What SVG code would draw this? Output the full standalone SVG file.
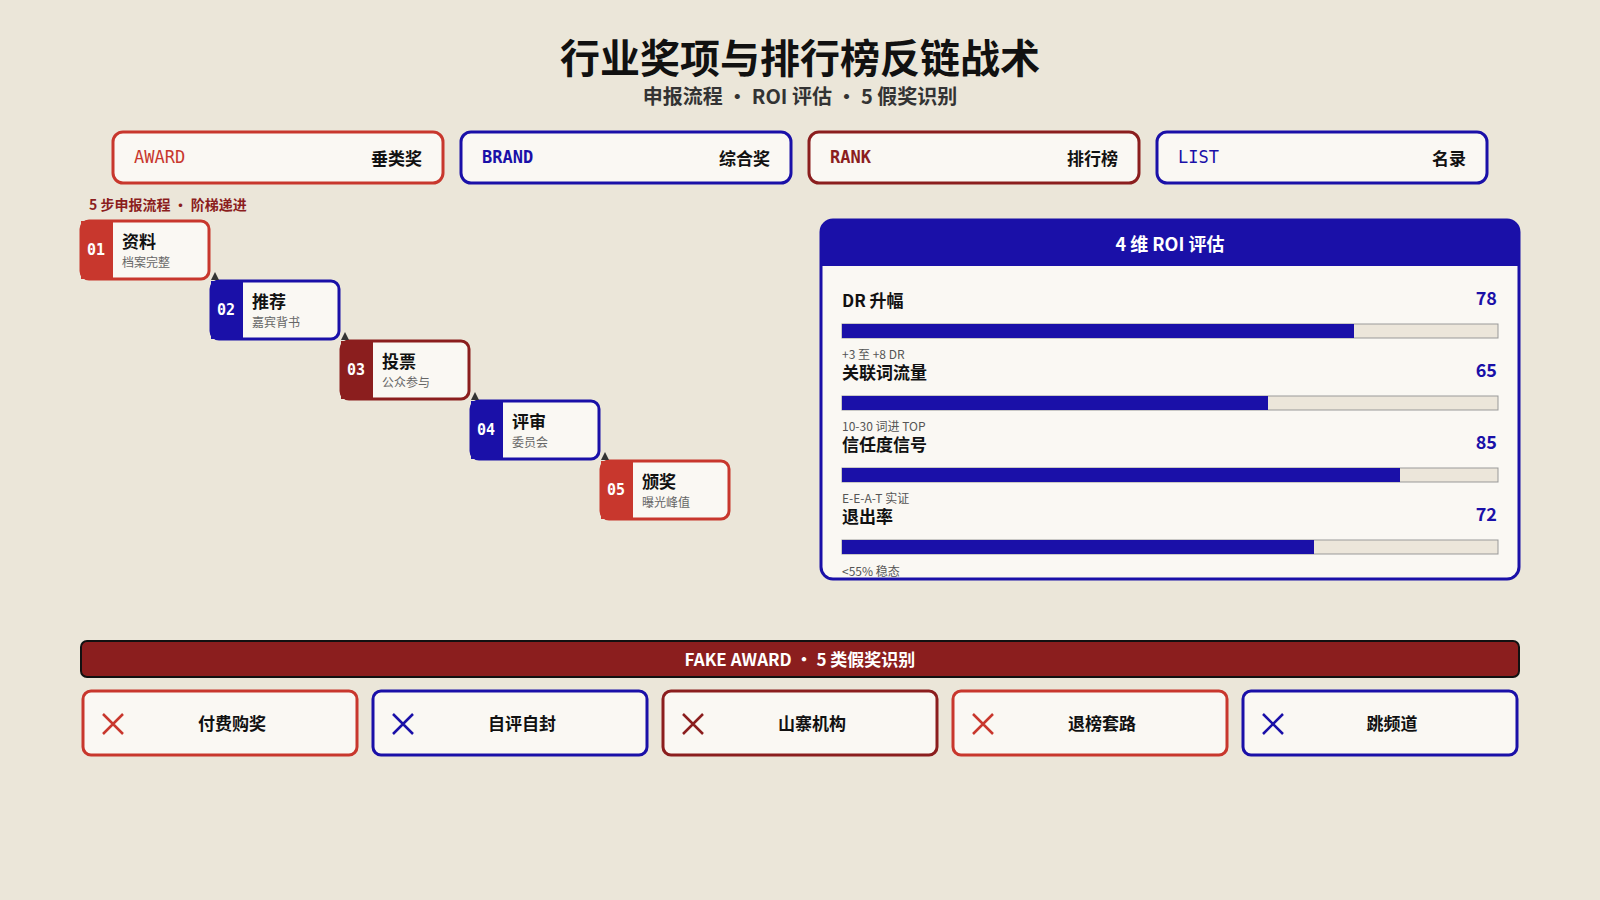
<svg xmlns="http://www.w3.org/2000/svg" width="1600" height="900" viewBox="0 0 1600 900">
<style>
text{font-family:"Noto Sans CJK SC","Noto Sans",sans-serif}
.mono{font-family:"DejaVu Sans Mono","Liberation Mono",monospace}
.card{fill:#faf8f3;stroke-width:3}
.r{stroke:#c8372d}.b{stroke:#1a10a8}.d{stroke:#8b1e1e}
.lbl{font-size:17px;font-weight:700;fill:#111}
.sm{font-size:12px;fill:#666}
.sub{font-size:12px;fill:#555}
.val{font-size:18px;font-weight:700;fill:#1a10a8}
.track{fill:#ece6da;stroke:#999;stroke-width:1}
.fill{fill:#1a10a8}
</style>
<rect width="1600" height="900" fill="#ebe6d9"/>
<text x="800" y="73" text-anchor="middle" font-size="40" font-weight="700" fill="#111">行业奖项与排行榜反链战术</text>
<text x="800" y="104" text-anchor="middle" font-size="20" font-weight="700" fill="#333">申报流程 • ROI 评估 • 5 假奖识别</text>

<g id="tag-award"><rect class="card r" x="113" y="132" width="330" height="51" rx="10"/><text class="mono" x="134" y="163" font-size="17" fill="#c8372d">AWARD</text><text x="422" y="165" text-anchor="end" class="lbl">垂类奖</text></g>
<g id="tag-brand"><rect class="card b" x="461" y="132" width="330" height="51" rx="10"/><text class="mono" x="482" y="163" font-size="17" font-weight="700" fill="#1a10a8">BRAND</text><text x="770" y="165" text-anchor="end" class="lbl">综合奖</text></g>
<g id="tag-rank"><rect class="card d" x="809" y="132" width="330" height="51" rx="10"/><text class="mono" x="830" y="163" font-size="17" font-weight="700" fill="#8b1e1e">RANK</text><text x="1118" y="165" text-anchor="end" class="lbl">排行榜</text></g>
<g id="tag-list"><rect class="card b" x="1157" y="132" width="330" height="51" rx="10"/><text class="mono" x="1178" y="163" font-size="17" fill="#1a10a8">LIST</text><text x="1466" y="165" text-anchor="end" class="lbl">名录</text></g>

<text x="89" y="210" font-size="14" font-weight="700" fill="#8b1e1e">5 步申报流程 • 阶梯递进</text>

<g id="step1"><rect class="card r" x="81" y="221" width="128" height="58" rx="8"/><rect x="81" y="221" width="32" height="58" fill="#c8372d"/><text class="mono" x="96" y="255" text-anchor="middle" font-size="15" font-weight="700" fill="#fff">01</text><text x="122" y="248" class="lbl" font-size="16">资料</text><text x="122" y="267" class="sm">档案完整</text></g>
<g id="step2"><rect class="card b" x="211" y="281" width="128" height="58" rx="8"/><rect x="211" y="281" width="32" height="58" fill="#1a10a8"/><text class="mono" x="226" y="315" text-anchor="middle" font-size="15" font-weight="700" fill="#fff">02</text><text x="252" y="308" class="lbl" font-size="16">推荐</text><text x="252" y="327" class="sm">嘉宾背书</text></g>
<g id="step3"><rect class="card d" x="341" y="341" width="128" height="58" rx="8"/><rect x="341" y="341" width="32" height="58" fill="#8b1e1e"/><text class="mono" x="356" y="375" text-anchor="middle" font-size="15" font-weight="700" fill="#fff">03</text><text x="382" y="368" class="lbl" font-size="16">投票</text><text x="382" y="387" class="sm">公众参与</text></g>
<g id="step4"><rect class="card b" x="471" y="401" width="128" height="58" rx="8"/><rect x="471" y="401" width="32" height="58" fill="#1a10a8"/><text class="mono" x="486" y="435" text-anchor="middle" font-size="15" font-weight="700" fill="#fff">04</text><text x="512" y="428" class="lbl" font-size="16">评审</text><text x="512" y="447" class="sm">委员会</text></g>
<g id="step5"><rect class="card r" x="601" y="461" width="128" height="58" rx="8"/><rect x="601" y="461" width="32" height="58" fill="#c8372d"/><text class="mono" x="616" y="495" text-anchor="middle" font-size="15" font-weight="700" fill="#fff">05</text><text x="642" y="488" class="lbl" font-size="16">颁奖</text><text x="642" y="507" class="sm">曝光峰值</text></g>

<g id="connectors" fill="#333">
<path d="M211 280 L215 272 L219 280Z"/>
<path d="M341 340 L345 332 L349 340Z"/>
<path d="M471 400 L475 392 L479 400Z"/>
<path d="M601 460 L605 452 L609 460Z"/>
</g>

<g id="roi">
<clipPath id="pc"><rect x="821" y="220" width="698" height="359" rx="12"/></clipPath>
<rect x="821" y="220" width="698" height="359" rx="12" fill="#faf8f3" stroke="#1a10a8" stroke-width="3"/>
<g clip-path="url(#pc)">
<rect x="821" y="220" width="698" height="46" fill="#1a10a8"/>
<text x="1170" y="251" text-anchor="middle" font-size="18" font-weight="700" fill="#fff">4 维 ROI 评估</text>
<text x="842" y="307" class="lbl">DR 升幅</text><text x="1497" y="305" text-anchor="end" class="val">78</text>
<rect class="track" x="842" y="324" width="656" height="14"/><rect class="fill" x="842" y="324" width="512" height="14"/>
<text x="842" y="359" class="sub">+3 至 +8 DR</text>
<text x="842" y="379" class="lbl">关联词流量</text><text x="1497" y="377" text-anchor="end" class="val">65</text>
<rect class="track" x="842" y="396" width="656" height="14"/><rect class="fill" x="842" y="396" width="426" height="14"/>
<text x="842" y="431" class="sub">10-30 词进 TOP</text>
<text x="842" y="451" class="lbl">信任度信号</text><text x="1497" y="449" text-anchor="end" class="val">85</text>
<rect class="track" x="842" y="468" width="656" height="14"/><rect class="fill" x="842" y="468" width="558" height="14"/>
<text x="842" y="503" class="sub">E-E-A-T 实证</text>
<text x="842" y="523" class="lbl">退出率</text><text x="1497" y="521" text-anchor="end" class="val">72</text>
<rect class="track" x="842" y="540" width="656" height="14"/><rect class="fill" x="842" y="540" width="472" height="14"/>
<text x="842" y="576" class="sub">&lt;55% 稳态</text>
</g>
</g>

<g id="fake-header"><rect x="81" y="641" width="1438" height="36" rx="6" fill="#8b1e1e" stroke="#111" stroke-width="2"/><text x="800" y="666" text-anchor="middle" font-size="17" font-weight="700" fill="#fff">FAKE AWARD • 5 类假奖识别</text></g>

<g id="fake1"><rect class="card r" x="83" y="691" width="274" height="64" rx="8"/><path d="M103 714l20 20M123 714l-20 20" stroke="#c8372d" stroke-width="2.5"/><text x="232" y="730" text-anchor="middle" class="lbl">付费购奖</text></g>
<g id="fake2"><rect class="card b" x="373" y="691" width="274" height="64" rx="8"/><path d="M393 714l20 20M413 714l-20 20" stroke="#1a10a8" stroke-width="2.5"/><text x="522" y="730" text-anchor="middle" class="lbl">自评自封</text></g>
<g id="fake3"><rect class="card d" x="663" y="691" width="274" height="64" rx="8"/><path d="M683 714l20 20M703 714l-20 20" stroke="#8b1e1e" stroke-width="2.5"/><text x="812" y="730" text-anchor="middle" class="lbl">山寨机构</text></g>
<g id="fake4"><rect class="card r" x="953" y="691" width="274" height="64" rx="8"/><path d="M973 714l20 20M993 714l-20 20" stroke="#c8372d" stroke-width="2.5"/><text x="1102" y="730" text-anchor="middle" class="lbl">退榜套路</text></g>
<g id="fake5"><rect class="card b" x="1243" y="691" width="274" height="64" rx="8"/><path d="M1263 714l20 20M1283 714l-20 20" stroke="#1a10a8" stroke-width="2.5"/><text x="1392" y="730" text-anchor="middle" class="lbl">跳频道</text></g>
</svg>
